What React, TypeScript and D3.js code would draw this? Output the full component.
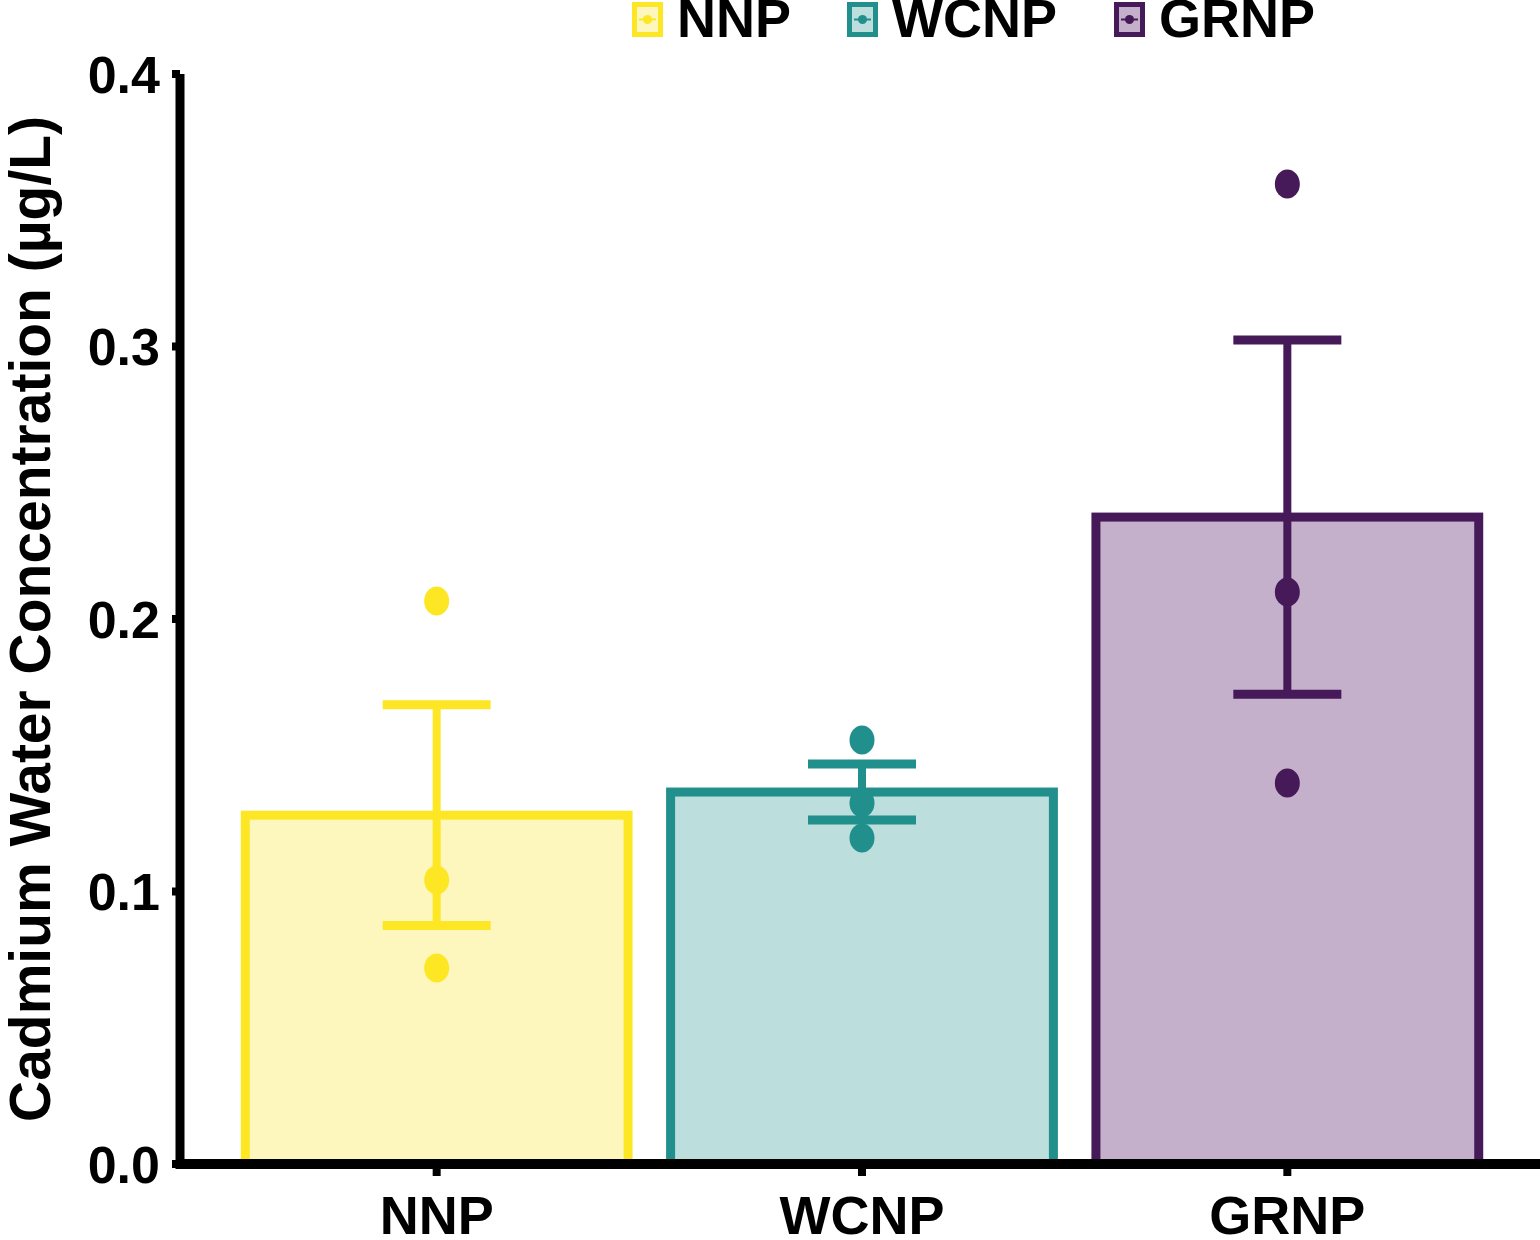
import React, { useEffect } from "react";
import * as d3 from "d3";

const categories = ["NNP", "WCNP", "GRNP"];
const means = [0.128, 0.1365, 0.2374];
const stdErrors = [0.0405, 0.0103, 0.065];
const pointsNNP = [0.2066, 0.1042, 0.0719];
const pointsWCNP = [0.1556, 0.1325, 0.1196];
const pointsGRNP = [0.3596, 0.2099, 0.1398];
const yTicks = [0.0, 0.1, 0.2, 0.3, 0.4];
const strokeColors = ["#FDE725", "#21908C", "#461959"];
const fillColors = ["#FDF7BE", "#BCDEDC", "#C5B0CB"];
const legendX = [632, 847, 1114];

const W = 1540;
const H = 1240;
const FONT = "'Liberation Sans', Arial, sans-serif";

export default function App() {
  useEffect(() => {
    document.body.style.margin = "0";
  }, []);

  const x = d3
    .scaleBand<string>()
    .domain(categories)
    .range([224, 1500])
    .paddingInner(0.1)
    .paddingOuter(0.05);
  const y = d3.scaleLinear().domain([0, 0.4]).range([1164, 74]);
  const allPoints = [pointsNNP, pointsWCNP, pointsGRNP];
  const capHalf = 54;

  return (
    <svg width={W} height={H} style={{ display: "block", background: "#fff" }} fontFamily={FONT}>
      {/* bars */}
      {categories.map((c, i) => (
        <rect
          key={c}
          x={x(c)!}
          y={y(means[i])}
          width={x.bandwidth()}
          height={y(0) - y(means[i])}
          fill={fillColors[i]}
          stroke={strokeColors[i]}
          strokeWidth={9}
        />
      ))}
      {/* points */}
      {categories.map((c, i) =>
        allPoints[i].map((v, j) => (
          <ellipse
            key={c + j}
            cx={x(c)! + x.bandwidth() / 2}
            cy={y(v)}
            rx={12.5}
            ry={14.5}
            fill={strokeColors[i]}
          />
        ))
      )}
      {/* error bars */}
      {categories.map((c, i) => {
        const cx = x(c)! + x.bandwidth() / 2;
        const hi = y(means[i] + stdErrors[i]);
        const lo = y(means[i] - stdErrors[i]);
        return (
          <g key={"e" + c} stroke={strokeColors[i]}>
            <line x1={cx} x2={cx} y1={hi} y2={lo} strokeWidth={8} />
            <line x1={cx - capHalf} x2={cx + capHalf} y1={hi} y2={hi} strokeWidth={9} />
            <line x1={cx - capHalf} x2={cx + capHalf} y1={lo} y2={lo} strokeWidth={9} />
          </g>
        );
      })}
      {/* y axis */}
      <line x1={180} x2={180} y1={y(0.4)} y2={y(0) + 5} stroke="#000" strokeWidth={9} />
      {yTicks.map((t) => (
        <g key={t}>
          <line x1={172} x2={180} y1={y(t)} y2={y(t)} stroke="#000" strokeWidth={8} />
          <text
            x={160}
            y={y(t)}
            dy="0.36em"
            textAnchor="end"
            fontSize={52}
            fontWeight="bold"
            fill="#000"
          >
            {t.toFixed(1)}
          </text>
        </g>
      ))}
      {/* x axis */}
      <line x1={176} x2={W} y1={y(0)} y2={y(0)} stroke="#000" strokeWidth={10} />
      {categories.map((c) => {
        const cx = x(c)! + x.bandwidth() / 2;
        return (
          <g key={"x" + c}>
            <line x1={cx} x2={cx} y1={y(0)} y2={y(0) + 12} stroke="#000" strokeWidth={8} />
            <text x={cx} y={1234} textAnchor="middle" fontSize={54} fontWeight="bold" fill="#000">
              {c}
            </text>
          </g>
        );
      })}
      {/* y title */}
      <text
        transform={`translate(50, ${(y(0) + y(0.4)) / 2}) rotate(-90)`}
        textAnchor="middle"
        fontSize={57}
        fontWeight="bold"
        fill="#000"
      >
        Cadmium Water Concentration (µg/L)
      </text>
      {/* legend */}
      {categories.map((c, i) => {
        const lx = legendX[i];
        return (
          <g key={"l" + c}>
            <rect x={lx + 2.5} y={4.5} width={26} height={30} fill={fillColors[i]} stroke={strokeColors[i]} strokeWidth={5} />
            <line x1={lx + 7} x2={lx + 24} y1={19.5} y2={19.5} stroke={strokeColors[i]} strokeWidth={2} />
            <circle cx={lx + 15.5} cy={19.5} r={4.5} fill={strokeColors[i]} />
            <text x={lx + 45} y={37} fontSize={54} fontWeight="bold" fill="#000">
              {c}
            </text>
          </g>
        );
      })}
    </svg>
  );
}
